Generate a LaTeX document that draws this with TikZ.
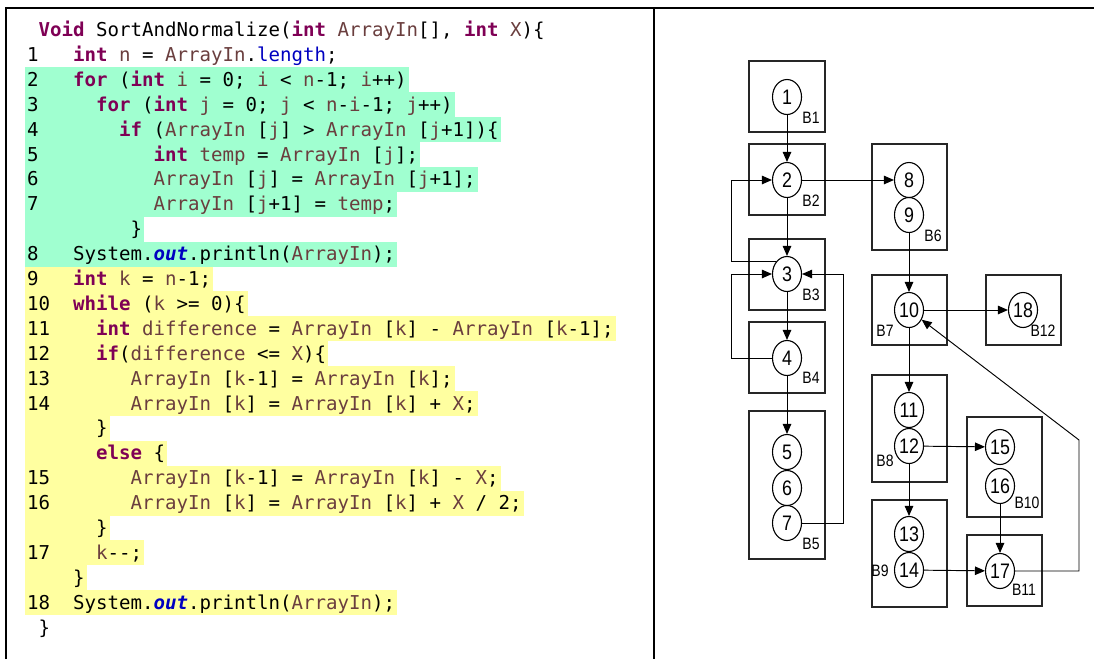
\documentclass[tikz,border=0pt]{standalone}
\usepackage{fontspec}
\setmonofont{DejaVu Sans Mono}
\newfontfamily\gfont[FakeStretch=0.85]{Liberation Sans}
\usetikzlibrary{arrows.meta,shapes.geometric}
\definecolor{kwc}{RGB}{127,0,85}
\definecolor{idc}{RGB}{106,62,62}
\definecolor{flc}{RGB}{0,0,192}
\definecolor{hlg}{RGB}{160,255,208}
\definecolor{hly}{RGB}{255,255,160}
\newcommand{\kw}[1]{\textcolor{kwc}{\bfseries #1}}
\newcommand{\idn}[1]{\textcolor{idc}{#1}}
\newcommand{\fld}[1]{\textcolor{flc}{#1}}
\newcommand{\sfl}[1]{\textcolor{flc}{\bfseries\itshape #1}}
\begin{document}
\begin{tikzpicture}[x=1pt,y=-1pt,
  codeline/.style={anchor=west,inner xsep=2pt,inner ysep=0pt,text height=18.95pt,text depth=5.95pt,
    font=\ttfamily\fontsize{19.1}{24.9}\selectfont},
  gline/.style={codeline,fill=hlg},
  yline/.style={codeline,fill=hly},
  bnode/.style={ellipse,draw=black,line width=1.1pt,minimum width=29pt,minimum height=35pt,inner sep=0pt,
    font=\gfont\fontsize{21}{22}\selectfont},
  bbox/.style={draw=black!85,line width=1.4pt},
  blabel/.style={inner sep=0pt,font=\gfont\fontsize{16.5}{17}\selectfont},
  edge/.style={draw=black,line width=0.95pt,-{Triangle[length=10pt,width=8.5pt]}},
  plainedge/.style={draw=black,line width=0.95pt}]
\useasboundingbox (0,0) rectangle (1094,659);
% panel frames
\draw[line width=1.6pt] (5.7,659) -- (5.7,7.7) -- (1094,7.7);
\draw[line width=2pt] (654,7.7) -- (654,659);
% code
\node[codeline] (r0) at (25,30) {~\kw{Void} SortAndNormalize(\kw{int} \idn{ArrayIn}[], \kw{int} \idn{X})\{};
\node[codeline] (r1) at (25,54.9) {1~~~\kw{int} \idn{n} = \idn{ArrayIn}.\fld{length};};
\node[gline] (r2) at (25,79.8) {2~~~\kw{for} (\kw{int} \idn{i} = 0; \idn{i} < \idn{n}-1; \idn{i}++)};
\node[gline] (r3) at (25,104.7) {3~~~~~\kw{for} (\kw{int} \idn{j} = 0; \idn{j} < \idn{n}-\idn{i}-1; \idn{j}++)};
\node[gline] (r4) at (25,129.6) {4~~~~~~~\kw{if} (\idn{ArrayIn} [\idn{j}] > \idn{ArrayIn} [\idn{j}+1])\{};
\node[gline] (r5) at (25,154.5) {5~~~~~~~~~~\kw{int} \idn{temp} = \idn{ArrayIn} [\idn{j}];};
\node[gline] (r6) at (25,179.4) {6~~~~~~~~~~\idn{ArrayIn} [\idn{j}] = \idn{ArrayIn} [\idn{j}+1];};
\node[gline] (r7) at (25,204.3) {7~~~~~~~~~~\idn{ArrayIn} [\idn{j}+1] = \idn{temp};};
\node[gline] (r8) at (25,229.2) {~~~~~~~~~\}};
\node[gline] (r9) at (25,254.1) {8~~~System.\sfl{out}.println(\idn{ArrayIn});};
\node[yline] (r10) at (25,279) {9~~~\kw{int} \idn{k} = \idn{n}-1;};
\node[yline] (r11) at (25,303.9) {10~~\kw{while} (\idn{k} >= 0)\{};
\node[yline] (r12) at (25,328.8) {11~~~~\kw{int} \idn{difference} = \idn{ArrayIn} [\idn{k}] - \idn{ArrayIn} [\idn{k}-1];};
\node[yline] (r13) at (25,353.7) {12~~~~\kw{if}(\idn{difference} <= \idn{X})\{};
\node[yline] (r14) at (25,378.6) {13~~~~~~~\idn{ArrayIn} [\idn{k}-1] = \idn{ArrayIn} [\idn{k}];};
\node[yline] (r15) at (25,403.5) {14~~~~~~~\idn{ArrayIn} [\idn{k}] = \idn{ArrayIn} [\idn{k}] + \idn{X};};
\node[yline] (r16) at (25,428.4) {~~~~~~\}};
\node[yline] (r17) at (25,453.3) {~~~~~~\kw{else} \{};
\node[yline] (r18) at (25,478.2) {15~~~~~~~\idn{ArrayIn} [\idn{k}-1] = \idn{ArrayIn} [\idn{k}] - \idn{X};};
\node[yline] (r19) at (25,503.1) {16~~~~~~~\idn{ArrayIn} [\idn{k}] = \idn{ArrayIn} [\idn{k}] + \idn{X} / 2;};
\node[yline] (r20) at (25,528) {~~~~~~\}};
\node[yline] (r21) at (25,552.9) {17~~~~\idn{k}--;};
\node[yline] (r22) at (25,577.8) {~~~~\}};
\node[yline] (r23) at (25,602.7) {18~~System.\sfl{out}.println(\idn{ArrayIn});};
\node[codeline] (r24) at (25,627.6) {~\}};
% block boxes
\draw[bbox] (749,61) rectangle (825,132);
\draw[bbox] (749,144) rectangle (825,215);
\draw[bbox] (749,239) rectangle (825,310);
\draw[bbox] (749,322) rectangle (825,393);
\draw[bbox] (749,411) rectangle (825,559);
\draw[bbox] (872,144) rectangle (947,250);
\draw[bbox] (872,275) rectangle (947,345);
\draw[bbox] (986,275) rectangle (1061,345);
\draw[bbox] (872,375) rectangle (947,482);
\draw[bbox] (872,500) rectangle (947,607);
\draw[bbox] (967,417) rectangle (1042,517);
\draw[bbox] (967,535) rectangle (1042,606);
% block labels
\node[blabel] (lB1) at (811,118) {B1};
\node[blabel] (lB2) at (811,201) {B2};
\node[blabel] (lB3) at (811,295) {B3};
\node[blabel] (lB4) at (811,378) {B4};
\node[blabel] (lB5) at (811,544) {B5};
\node[blabel] (lB6) at (933,236) {B6};
\node[blabel] (lB7) at (885,331) {B7};
\node[blabel] (lB12) at (1043,331) {B12};
\node[blabel] (lB8) at (885,461) {B8};
\node[blabel] (lB9) at (880,571) {B9};
\node[blabel] (lB10) at (1027,503) {B10};
\node[blabel] (lB11) at (1024,590) {B11};
% statement nodes
\node[bnode] (n1) at (787,97) {1};
\node[bnode] (n2) at (787,180) {2};
\node[bnode] (n3) at (787,274) {3};
\node[bnode] (n4) at (787,358) {4};
\node[bnode] (n5) at (787,452) {5};
\node[bnode] (n6) at (787,488) {6};
\node[bnode] (n7) at (787,523) {7};
\node[bnode] (n8) at (909,180) {8};
\node[bnode] (n9) at (909,215) {9};
\node[bnode] (n10) at (909,310) {10};
\node[bnode] (n18) at (1023,310) {18};
\node[bnode] (n11) at (909,410) {11};
\node[bnode] (n12) at (909,446) {12};
\node[bnode] (n13) at (909,534) {13};
\node[bnode] (n14) at (909,570) {14};
\node[bnode] (n15) at (1000,447) {15};
\node[bnode] (n16) at (1000,486) {16};
\node[bnode] (n17) at (1000,571) {17};
% routing coordinates
\coordinate (lx) at (731,0);
\coordinate (rx) at (843,0);
\coordinate (c1) at (1079,571);
\coordinate (c2) at (1079,440);
% edges
\draw[edge] (n1) -- (n2);
\draw[edge] (n2) -- (n3);
\draw[edge] (n3) -- (n4);
\draw[edge] (n4) -- (n5);
\draw[edge] (n2) -- (n8);
\draw[edge] (n9) -- (n10);
\draw[edge] (n10) -- (n18);
\draw[edge] (n10) -- (n11);
\draw[edge] (n12) -- (n13);
\draw[edge] (n12) -- (n15);
\draw[edge] (n14) -- (n17);
\draw[edge] (n16) -- (n17);
\draw[edge] (n3.130) -- (n3.130 -| lx) |- (n2.west);
\draw[edge] (n4.west) -- (n4.west -| lx) |- (n3.west);
\draw[edge] (n7.east) -- (n7.east -| rx) |- (n3.east);
\draw[edge] (n17.east) -- (c1) -- (c2) -- (n10);
\end{tikzpicture}
\end{document}
